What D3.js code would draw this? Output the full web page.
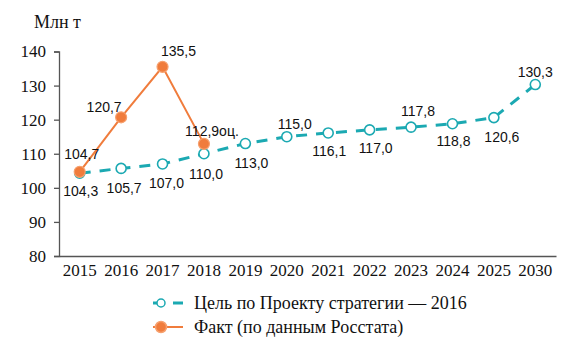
<!DOCTYPE html>
<html>
<head>
<meta charset="utf-8">
<script src="https://cdn.jsdelivr.net/npm/d3@7"></script>
<style>
  body { margin: 0; background: #fff; }
  svg { display: block; }
</style>
</head>
<body>
<div id="chart"></div>
<script>
// categories and values
var years = ["2015","2016","2017","2018","2019","2020","2021","2022","2023","2024","2025","2030"];
var target = [104.3,105.7,107.0,110.0,113.0,115.0,116.1,117.0,117.8,118.8,120.6,130.3];
var targetLabels = ["104,3","105,7","107,0","110,0","113,0","115,0","116,1","117,0","117,8","118,8","120,6","130,3"];
var factYears = ["2015","2016","2017","2018"];
var fact = [104.7,120.7,135.5,112.9];
var factLabels = ["104,7","120,7","135,5","112,9оц."];
var yTicks = [80,90,100,110,120,130,140];

var width = 586,
    height = 351;

var teal = "#1ba9b2",
    orange = "#f07c3c";

var svg = d3.select("#chart").append("svg")
    .attr("width", width)
    .attr("height", height);

var x = d3.scaleBand()
    .domain(years)
    .range([59, 556]);

var y = d3.scaleLinear()
    .domain([80, 140])
    .range([256, 51.5]);

var cx = function(yr) { return x(yr) + x.bandwidth() / 2; };

// y axis
var yAxis = svg.append("g")
    .attr("transform", "translate(59,0)")
    .call(d3.axisLeft(y).tickValues(yTicks).tickSize(5).tickPadding(8));
yAxis.attr("font-family", "Liberation Serif, serif");
yAxis.select(".domain").attr("stroke", "#555").attr("stroke-width", 1.3);
yAxis.selectAll(".tick line").attr("stroke", "#555").attr("stroke-width", 1.3);
yAxis.selectAll("text")
    .attr("font-family", "Liberation Serif, serif")
    .attr("font-size", 17)
    .attr("fill", "#111");

// x axis
var xAxis = svg.append("g")
    .attr("transform", "translate(0,256)")
    .call(d3.axisBottom(x).tickSize(0).tickPadding(8));
xAxis.attr("font-family", "Liberation Serif, serif");
xAxis.select(".domain").attr("stroke", "#555").attr("stroke-width", 1.3);
xAxis.selectAll("text")
    .attr("font-family", "Liberation Serif, serif")
    .attr("font-size", 17)
    .attr("fill", "#111");

svg.append("text")
    .attr("x", 34)
    .attr("y", 28)
    .attr("font-family", "Liberation Serif, serif")
    .attr("font-size", 18)
    .attr("fill", "#111")
    .text("Млн т");

var line = d3.line()
    .x(function(d) { return cx(d.year); })
    .y(function(d) { return y(d.value); });

var targetData = years.map(function(yr, i) { return { year: yr, value: target[i], label: targetLabels[i] }; });
var factData = factYears.map(function(yr, i) { return { year: yr, value: fact[i], label: factLabels[i] }; });

svg.append("path")
    .datum(targetData)
    .attr("d", line)
    .attr("fill", "none")
    .attr("stroke", teal)
    .attr("stroke-width", 3)
    .attr("stroke-dasharray", "11,9");

svg.append("path")
    .datum(factData)
    .attr("d", line)
    .attr("fill", "none")
    .attr("stroke", orange)
    .attr("stroke-width", 2);

svg.selectAll(".tdot")
    .data(targetData)
    .enter().append("circle")
    .attr("class", "tdot")
    .attr("cx", function(d) { return cx(d.year); })
    .attr("cy", function(d) { return y(d.value); })
    .attr("r", 5)
    .attr("fill", "#fff")
    .attr("stroke", teal)
    .attr("stroke-width", 1.6);

svg.selectAll(".fdot")
    .data(factData)
    .enter().append("circle")
    .attr("class", "fdot")
    .attr("cx", function(d) { return cx(d.year); })
    .attr("cy", function(d) { return y(d.value); })
    .attr("r", 5.5)
    .attr("fill", orange)
    .attr("stroke", "#f6a06e")
    .attr("stroke-width", 1.2);

// label offsets from the point (negative dy = above)
var tOff = [[1,23],[3,25],[4,24],[2,25],[6,24],[8,-8],[1,23],[6,23],[7,-11],[1,22],[8,24],[0,-8]];
var fOff = [[2,-13],[-17,-5],[16,-11],[8,-8]];

var labelFont = "Liberation Sans, Arial, sans-serif";

svg.selectAll(".tlab")
    .data(targetData)
    .enter().append("text")
    .attr("class", "tlab")
    .attr("x", function(d, i) { return cx(d.year) + tOff[i][0]; })
    .attr("y", function(d, i) { return y(d.value) + tOff[i][1]; })
    .attr("text-anchor", "middle")
    .attr("font-family", labelFont)
    .attr("font-size", 14)
    .attr("fill", "#111")
    .text(function(d) { return d.label; });

svg.selectAll(".flab")
    .data(factData)
    .enter().append("text")
    .attr("class", "flab")
    .attr("x", function(d, i) { return cx(d.year) + fOff[i][0]; })
    .attr("y", function(d, i) { return y(d.value) + fOff[i][1]; })
    .attr("text-anchor", "middle")
    .attr("font-family", labelFont)
    .attr("font-size", 14)
    .attr("fill", "#111")
    .text(function(d) { return d.label; });

// legend
var legend = [
  { name: "Цель по Проекту стратегии — 2016", color: teal, open: true },
  { name: "Факт (по данным Росстата)", color: orange, open: false }
];

var lg = svg.selectAll(".legend")
    .data(legend)
    .enter().append("g")
    .attr("class", "legend")
    .attr("transform", function(d, i) { return "translate(153," + (303 + i * 24) + ")"; });

lg.append("line")
    .attr("x1", 0).attr("x2", 30)
    .attr("y1", 0).attr("y2", 0)
    .attr("stroke", function(d) { return d.color; })
    .attr("stroke-width", function(d) { return d.open ? 3 : 2; })
    .attr("stroke-dasharray", function(d) { return d.open ? "4,16,10" : null; });

lg.append("circle")
    .attr("cx", 8)
    .attr("cy", 0)
    .attr("r", function(d) { return d.open ? 4 : 5.5; })
    .attr("fill", function(d) { return d.open ? "#fff" : d.color; })
    .attr("stroke", function(d) { return d.open ? d.color : "#f6a06e"; })
    .attr("stroke-width", 1.5);

lg.append("text")
    .attr("x", 41)
    .attr("y", 6)
    .attr("font-family", "Liberation Serif, serif")
    .attr("font-size", 18)
    .attr("fill", "#111")
    .text(function(d) { return d.name; });
</script>
</body>
</html>
